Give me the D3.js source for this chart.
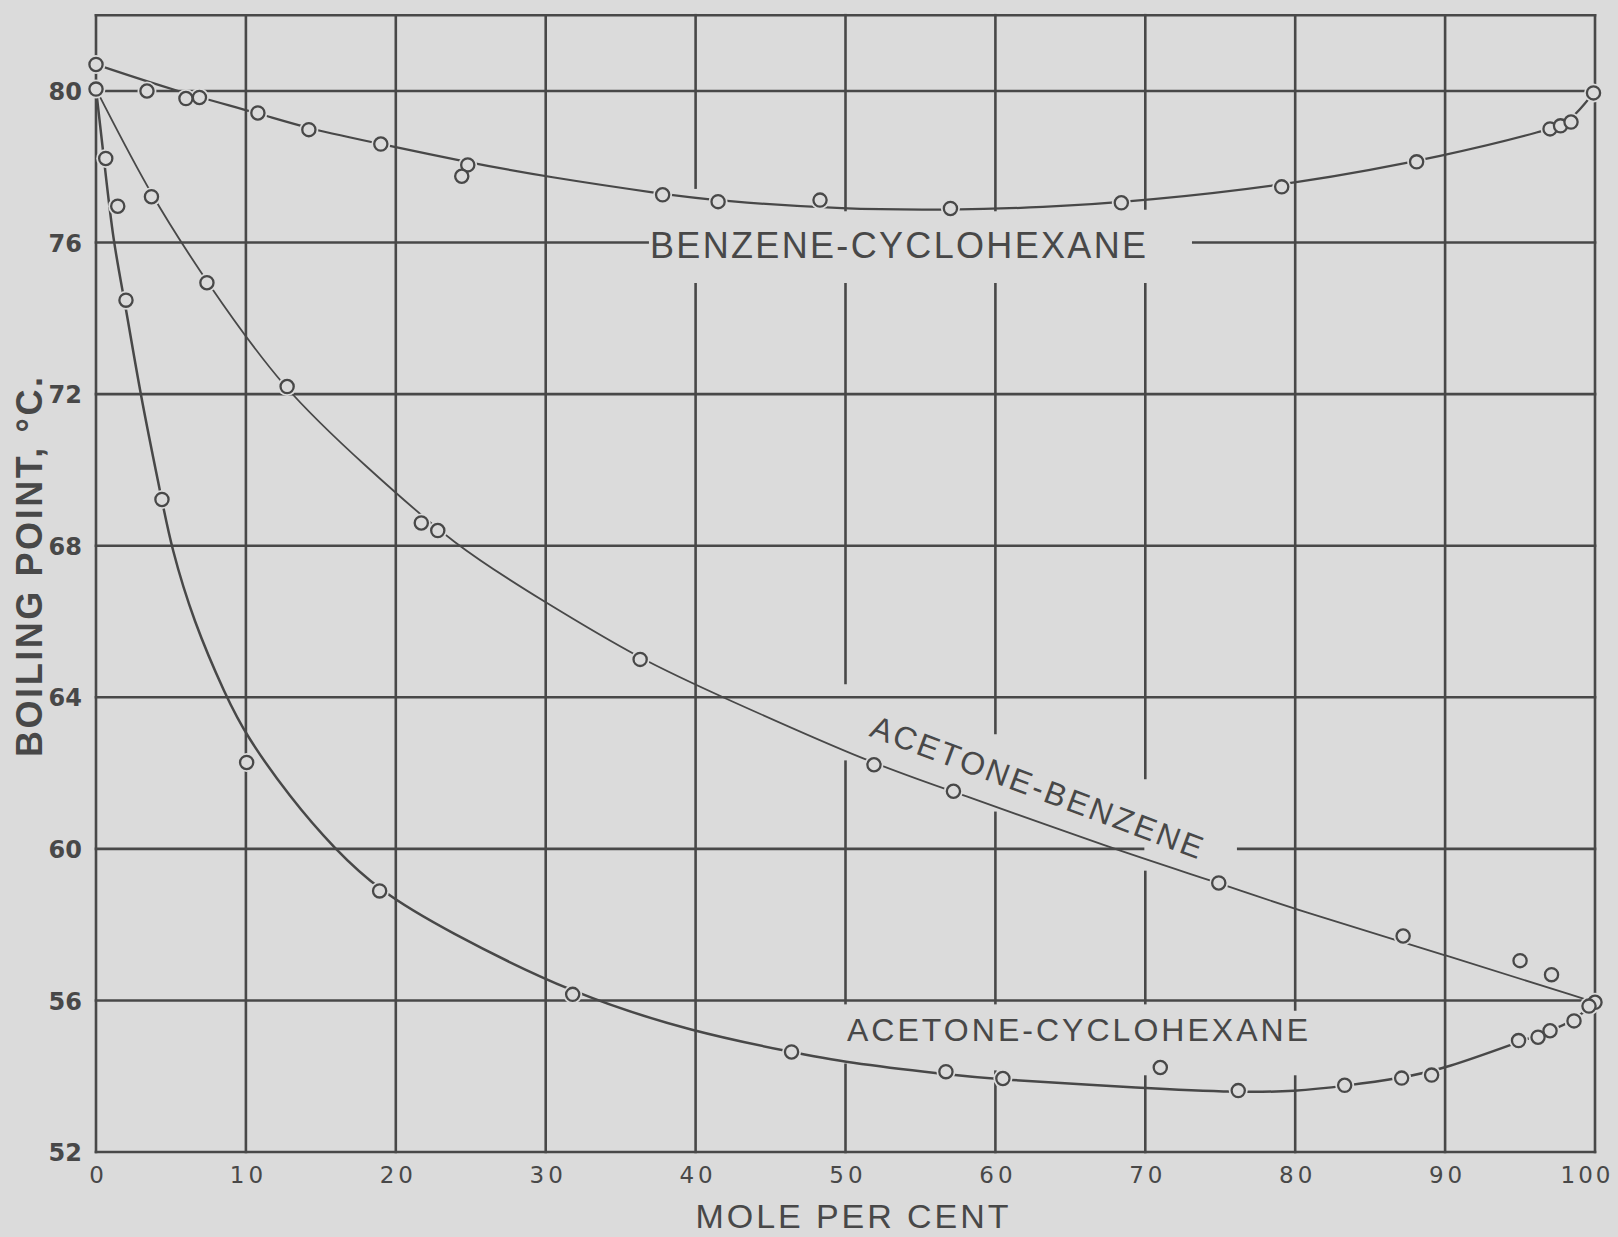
<!DOCTYPE html>
<html><head><meta charset="utf-8">
<script src="https://cdn.jsdelivr.net/npm/d3@7/dist/d3.min.js"></script>
<style>
html,body{margin:0;padding:0;background:#dbdbdb;}
svg{display:block;}
</style></head><body>
<svg id="chart" width="1618" height="1237"></svg>
<script>
// ---------- data ----------
const xTicks = [0,10,20,30,40,50,60,70,80,90,100];
const yTicks = [52,56,60,64,68,72,76,80];
const xTickLabels = ["0","10","20","30","40","50","60","70","80","90","100"];
const yTickLabels = ["52","56","60","64","68","72","76","80"];
const xTitle = "MOLE PER CENT";
const yTitle = "BOILING POINT, °C.";
const seriesNames = ["BENZENE-CYCLOHEXANE","ACETONE-BENZENE","ACETONE-CYCLOHEXANE"];

// observed points [mole %, boiling point °C]
const bcPoints = [[0,80.7],[3.4,80.0],[6.0,79.8],[6.9,79.83],[10.8,79.42],[14.2,78.98],[19.0,78.6],
  [24.8,78.05],[24.4,77.75],[37.8,77.26],[41.5,77.08],[48.3,77.12],[57.0,76.9],[68.4,77.05],
  [79.1,77.47],[88.1,78.13],[97.0,79.0],[97.7,79.08],[98.4,79.18],[99.9,79.95]];
const abPoints = [[0,80.05],[3.7,77.21],[7.4,74.94],[12.75,72.2],[21.7,68.6],[22.8,68.4],[36.3,65.0],
  [51.9,62.22],[57.2,61.52],[74.9,59.1],[87.2,57.7],[95.0,57.05],[97.1,56.68],[100,55.95]];
const acPoints = [[0.65,78.22],[1.45,76.96],[2.0,74.48],[4.4,69.22],[10.05,62.28],[18.92,58.89],
  [31.8,56.16],[46.4,54.64],[56.7,54.12],[60.5,53.94],[71.0,54.23],[76.2,53.62],[83.3,53.76],
  [87.1,53.95],[89.1,54.03],[94.9,54.94],[96.2,55.03],[97.0,55.2],[98.6,55.46],[99.6,55.85]];

// drawn smooth curves, read along the lines of the picture
const bcCurve = [[0,80.7],[5.3,80.0],[10.8,79.42],[14.2,79.0],[19,78.6],[25,78.1],[30,77.74],
  [37.8,77.28],[41.5,77.1],[50,76.87],[57,76.86],[63,76.92],[70,77.1],[80.2,77.55],[90.2,78.3],
  [97,78.98],[98.4,79.2],[100,80.0]];
const abCurve = [[0,80.05],[3.7,77.2],[7.4,74.95],[12.5,72.1],[18,70.1],[23.9,68.0],[30,66.5],
  [36.3,65.0],[41.8,64.0],[51.9,62.22],[57.2,61.52],[67.8,60.0],[74.9,59.1],[80,58.4],[90,57.2],[100,55.95]];
const acCurve = [[0,80.05],[0.55,78.15],[1.15,76.0],[1.95,74.4],[2.95,72.0],[4.4,69.2],[5.0,68.0],
  [6.5,66.0],[8.7,64.0],[10.0,63.0],[12.95,61.35],[15.9,60.0],[18.92,58.89],[23.2,57.87],[31.8,56.16],
  [40,55.15],[46.4,54.64],[50,54.36],[56.7,54.05],[60,53.92],[70,53.68],[76.2,53.57],[80,53.6],
  [83.3,53.74],[87.1,53.95],[90,54.2],[94.9,54.9],[97,55.2],[98.6,55.46],[100,55.95]];

// ---------- layout / style ----------
const BG = "#dbdbdb", INK = "#484848";
const W = 1618, H = 1237;
const xScale = d3.scaleLinear().domain([0,100]).range([96,1595]);
const yScale = d3.scaleLinear().domain([52,82]).range([1152,15.2]);
const frameTop = 82;

// breaks left in the grid around the hand lettering
const vGaps = [
  {x:40,from:77.45,to:74.9},{x:50,from:76.86,to:74.9},{x:60,from:76.86,to:74.9},{x:70,from:76.9,to:74.9},
  {x:50,from:64.38,to:62.3},{x:60,from:63.06,to:60.95},{x:70,from:61.87,to:59.39},
  {x:50,from:55.93,to:54.3},{x:60,from:55.93,to:54.12},{x:70,from:55.93,to:53.99},{x:80,from:55.76,to:53.99}];
const hGaps = [{y:76,from:36.8,to:73.2},{y:60,from:69.85,to:76.2}];

function intervals(lo, hi, gaps){
  const g = gaps.map(d=>[Math.min(d.from,d.to),Math.max(d.from,d.to)]).sort((a,b)=>a[0]-b[0]);
  const out=[]; let cur=lo;
  for(const [a,b] of g){ if(a>cur) out.push([cur,a]); cur=Math.max(cur,b); }
  if(cur<hi) out.push([cur,hi]);
  return out;
}

const svg = d3.select("#chart");
svg.append("rect").attr("width",W).attr("height",H).attr("fill",BG);

const grid = svg.append("g").attr("stroke",INK).attr("stroke-width",2.6).attr("stroke-linecap","square");
xTicks.forEach(v=>{
  intervals(52, frameTop, vGaps.filter(g=>g.x===v)).forEach(([a,b])=>{
    grid.append("line").attr("x1",xScale(v)).attr("x2",xScale(v)).attr("y1",yScale(a)).attr("y2",yScale(b));
  });
});
yTicks.concat([frameTop]).forEach(t=>{
  intervals(0, 100, hGaps.filter(g=>g.y===t)).forEach(([a,b])=>{
    grid.append("line").attr("y1",yScale(t)).attr("y2",yScale(t)).attr("x1",xScale(a)).attr("x2",xScale(b));
  });
});

// curves
const line = d3.line().x(d=>xScale(d[0])).y(d=>yScale(d[1])).curve(d3.curveBasis);
const curves = [[bcCurve,2.2],[abCurve,1.8],[acCurve,2.5]];
curves.forEach(([c,w])=>{
  svg.append("path").attr("d",line(c)).attr("fill","none").attr("stroke",INK).attr("stroke-width",w);
});

// points
const allPts = bcPoints.concat(abPoints, acPoints);
svg.append("g").selectAll("circle").data(allPts).join("circle")
  .attr("cx",d=>xScale(d[0])).attr("cy",d=>yScale(d[1])).attr("r",9.5).attr("fill",BG);
svg.append("g").selectAll("circle").data(allPts).join("circle")
  .attr("cx",d=>xScale(d[0])).attr("cy",d=>yScale(d[1])).attr("r",6.6)
  .attr("fill",BG).attr("stroke",INK).attr("stroke-width",2.3);

// axes (labels only)
const yAxis = d3.axisLeft(yScale).tickValues(yTicks).tickFormat((d,i)=>yTickLabels[i]).tickSize(0).tickPadding(14);
const gy = svg.append("g").attr("transform",`translate(${xScale(0)},0)`).call(yAxis);
gy.select(".domain").remove();
gy.selectAll("text").attr("fill",INK).attr("font-family","'DejaVu Sans',sans-serif")
  .attr("font-weight","bold").attr("font-size",24).attr("dy","0.36em");

const xAxis = d3.axisBottom(xScale).tickValues(xTicks).tickFormat((d,i)=>xTickLabels[i]).tickSize(0).tickPadding(15);
const gx = svg.append("g").attr("transform",`translate(0,${yScale(52)})`).call(xAxis);
gx.select(".domain").remove();
gx.selectAll("text").attr("fill",INK).attr("font-family","'DejaVu Sans',sans-serif")
  .attr("font-size",23).attr("letter-spacing",4).attr("dx",2);
gx.selectAll("text").filter(d=>d===100).attr("text-anchor","end").attr("dx",18).attr("letter-spacing",3);

// titles
svg.append("text").attr("x",852).attr("y",1228).attr("text-anchor","middle")
  .attr("textLength",313).attr("lengthAdjust","spacing")
  .attr("fill",INK).attr("font-family","'Liberation Sans',sans-serif").attr("font-size",34)
  .text(xTitle);
svg.append("text").attr("transform","translate(42,567) rotate(-90)").attr("text-anchor","middle")
  .attr("textLength",380).attr("lengthAdjust","spacing")
  .attr("fill",INK).attr("font-family","'Liberation Sans',sans-serif").attr("font-weight","bold").attr("font-size",36)
  .text(yTitle);

// curve labels
const labelStyle = s=>s.attr("fill",INK).attr("text-anchor","middle").attr("lengthAdjust","spacing")
  .attr("font-family","'Liberation Sans',sans-serif");
svg.append("text").call(labelStyle).attr("x",898).attr("y",258).attr("textLength",496)
  .attr("font-size",36).text(seriesNames[0]);
svg.append("text").call(labelStyle).attr("transform","translate(1033,797.5) rotate(20.5)").attr("textLength",352)
  .attr("font-size",32).text(seriesNames[1]);
svg.append("text").call(labelStyle).attr("x",1077.5).attr("y",1041).attr("textLength",461)
  .attr("font-size",32).text(seriesNames[2]);
</script>
</body></html>
